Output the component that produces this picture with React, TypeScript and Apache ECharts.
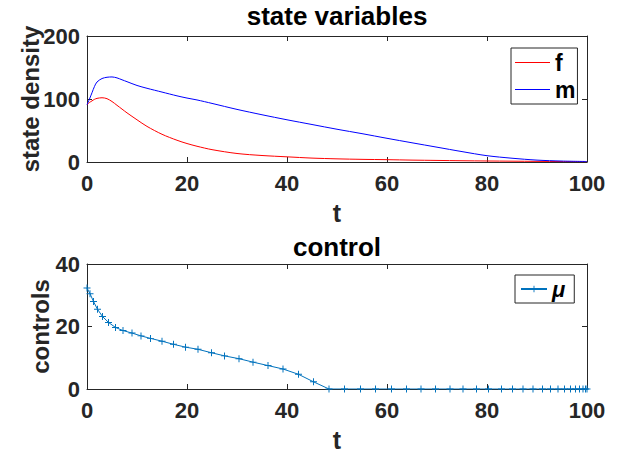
import React, { useEffect, useRef } from "react";
import * as echarts from "echarts";

// ---- data ----
const tState = [0, 0.5, 1, 1.5, 2, 3, 4, 5, 6, 7, 8, 10, 12, 15, 18, 20, 22, 25, 30, 35, 40, 45, 50, 55, 60, 65, 70, 75, 80, 85, 90, 95, 100];
const fVals = [91, 94.5, 97, 99.5, 101, 102, 100.5, 96, 90, 84, 78, 67, 56.5, 44, 34.5, 29.3, 25, 19.6, 13.5, 10.3, 8.2, 6.2, 5, 4.2, 3.7, 3, 2.5, 2, 1.6, 1.3, 1, 0.7, 0.5];
const mVals = [91, 100, 110, 120, 127, 132.5, 134.5, 135, 133.5, 130.5, 127.5, 121.5, 117, 111, 105, 101.5, 98.5, 93, 83.5, 75, 67, 59.5, 52, 45, 37.6, 30.5, 23.5, 16.5, 10, 6, 3, 1.5, 0.8];

const tCtrl = [0, 0.6, 1.3, 2.1, 3.1, 4.3, 5.7, 7.2, 9.0, 10.8, 12.7, 15.0, 17.3, 19.7, 22.2, 24.9, 27.5, 30.4, 33.2, 36.2, 39.2, 42.3, 45.3, 48.4, 51.5, 54.7, 57.7, 60.9, 63.9, 66.8, 69.7, 72.6, 75.2, 77.9, 80.3, 82.9, 85.1, 87.2, 89.2, 91.1, 92.7, 94.2, 95.5, 96.7, 97.7, 98.5, 99.2, 99.7, 100];
const muVals = [32.3, 30.5, 28.0, 25.5, 23.2, 21.3, 19.7, 18.7, 17.9, 17.0, 16.2, 15.3, 14.3, 13.4, 12.7, 11.6, 10.6, 9.7, 8.6, 7.5, 6.4, 4.7, 2.3, 0, 0, 0, 0, 0, 0, 0, 0, 0, 0, 0, 0, 0, 0, 0, 0, 0, 0, 0, 0, 0, 0, 0, 0, 0, 0];

const xTicks = { min: 0, max: 100, interval: 20 };
const yTopTicks = { min: 0, max: 200, interval: 100 };
const yBotTicks = { min: 0, max: 40, interval: 20 };

const FONT = "'Liberation Sans', Arial, Helvetica, sans-serif";
const AX = "#262626";
const PLUS = "path://M4.3,0h1.4v4.3h4.3v1.4h-4.3v4.3h-1.4v-4.3h-4.3v-1.4h4.3z";
const LINE_ICON = "path://M0,0h35v1h-35z";

function mainX(grid: number) {
  return {
    gridIndex: grid,
    type: "value",
    ...xTicks,
    position: "bottom",
    name: "t",
    nameLocation: "middle",
    nameGap: 38,
    nameMoveOverlap: false,
    nameTextStyle: { fontSize: 25, fontWeight: "bold", color: AX, fontFamily: FONT },
    axisLine: { show: true, onZero: false, lineStyle: { color: AX, width: 1 } },
    axisTick: { show: true, inside: true, length: 5, lineStyle: { color: AX, width: 1 } },
    axisLabel: { fontSize: 22, fontWeight: "bold", color: AX, margin: 10, fontFamily: FONT },
    splitLine: { show: false },
  };
}
function boxX(grid: number) {
  return {
    gridIndex: grid,
    type: "value",
    ...xTicks,
    position: "top",
    axisLine: { show: true, onZero: false, lineStyle: { color: AX, width: 1 } },
    axisTick: { show: true, inside: true, length: 5, lineStyle: { color: AX, width: 1 } },
    axisLabel: { show: false },
    splitLine: { show: false },
  };
}
function mainY(grid: number, ticks: any, name: string, gap: number) {
  return {
    gridIndex: grid,
    type: "value",
    ...ticks,
    position: "left",
    name,
    nameLocation: "middle",
    nameGap: gap,
    nameMoveOverlap: false,
    nameTextStyle: { fontSize: 24, fontWeight: "bold", color: AX, fontFamily: FONT },
    axisLine: { show: true, onZero: false, lineStyle: { color: AX, width: 1 } },
    axisTick: { show: true, inside: true, length: 5, lineStyle: { color: AX, width: 1 } },
    axisLabel: { fontSize: 22, fontWeight: "bold", color: AX, margin: 7, fontFamily: FONT },
    splitLine: { show: false },
  };
}
function boxY(grid: number, ticks: any) {
  return {
    gridIndex: grid,
    type: "value",
    ...ticks,
    position: "right",
    axisLine: { show: true, onZero: false, lineStyle: { color: AX, width: 1 } },
    axisTick: { show: true, inside: true, length: 5, lineStyle: { color: AX, width: 1 } },
    axisLabel: { show: false },
    splitLine: { show: false },
  };
}

export default function App() {
  const ref = useRef<HTMLDivElement>(null);
  useEffect(() => {
    if (!ref.current) return;
    const chart = echarts.init(ref.current, null, { renderer: "svg" });
    const option: any = {
      animation: false,
      backgroundColor: "#fff",
      textStyle: { fontFamily: FONT },
      grid: [
        { left: 87, top: 36, width: 500, height: 126, containLabel: false, outerBoundsMode: "none" },
        { left: 87, top: 264, width: 500, height: 125, containLabel: false, outerBoundsMode: "none" },
      ],
      xAxis: [mainX(0), boxX(0), mainX(1), boxX(1)],
      yAxis: [
        mainY(0, yTopTicks, "state density", 45),
        boxY(0, yTopTicks),
        mainY(1, yBotTicks, "controls", 35),
        boxY(1, yBotTicks),
      ],
      graphic: [
        {
          type: "text",
          x: 337,
          y: 16,
          style: { text: "state variables", fontSize: 26, fontWeight: "bold", fill: "#000", align: "center", verticalAlign: "middle", fontFamily: FONT },
        },
        {
          type: "text",
          x: 337,
          y: 247,
          style: { text: "control", fontSize: 26, fontWeight: "bold", fill: "#000", align: "center", verticalAlign: "middle", fontFamily: FONT },
        },
      ],
      legend: [
        {
          data: [
            { name: "f", icon: LINE_ICON },
            { name: "m", icon: LINE_ICON },
          ],
          orient: "vertical",
          left: 511,
          top: 48,
          itemWidth: 35,
          itemHeight: 1,
          itemGap: 4,
          padding: [3, 2, 3, 4],
          borderColor: AX,
          borderWidth: 1,
          borderRadius: 0,
          backgroundColor: "#fff",
          textStyle: { fontSize: 23, fontWeight: "bold", color: "#000", fontFamily: FONT },
        },
        {
          data: ["μ"],
          orient: "vertical",
          left: 515,
          top: 275,
          itemWidth: 26,
          itemHeight: 8,
          padding: [3, 9, 3, 5],
          borderColor: AX,
          borderWidth: 1,
          borderRadius: 0,
          backgroundColor: "#fff",
          textStyle: { fontSize: 22, fontWeight: "bold", fontStyle: "italic", color: "#000", fontFamily: FONT },
        },
      ],
      series: [
        {
          name: "f",
          type: "line",
          xAxisIndex: 0,
          yAxisIndex: 0,
          data: tState.map((t, i) => [t, fVals[i]]),
          symbol: "none",
          smooth: 0.3,
          lineStyle: { color: "#ff0000", width: 1 },
          itemStyle: { color: "#ff0000" },
        },
        {
          name: "m",
          type: "line",
          xAxisIndex: 0,
          yAxisIndex: 0,
          data: tState.map((t, i) => [t, mVals[i]]),
          symbol: "none",
          smooth: 0.3,
          lineStyle: { color: "#0000ff", width: 1 },
          itemStyle: { color: "#0000ff" },
        },
        {
          name: "μ",
          type: "line",
          xAxisIndex: 2,
          yAxisIndex: 2,
          data: tCtrl.map((t, i) => [t, muVals[i]]),
          symbol: PLUS,
          symbolSize: 7,
          showAllSymbol: true,
          lineStyle: { color: "#0072BD", width: 1 },
          itemStyle: { color: "#0072BD" },
        },
      ],
    };
    chart.setOption(option);
    return () => chart.dispose();
  }, []);
  return (
    <div
      ref={ref}
      style={{ position: "absolute", left: 0, top: 0, width: 620, height: 452, background: "#fff" }}
    />
  );
}
